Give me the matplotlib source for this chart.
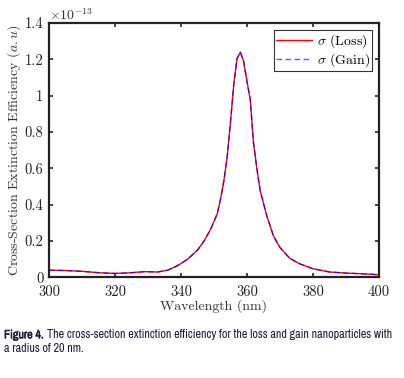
import matplotlib
matplotlib.use("Agg")
import matplotlib.pyplot as plt
import matplotlib.patheffects as pe
from matplotlib import font_manager

plt.rcParams['font.family'] = 'serif'
plt.rcParams['font.serif'] = ['cmr10', 'DejaVu Serif']
plt.rcParams['mathtext.fontset'] = 'cm'
plt.rcParams['axes.unicode_minus'] = False

# wavelength (nm) and cross-section (x1e-13, a.u.)
wavelength = [300, 305, 310, 315, 320, 325, 329, 333, 336, 339, 342, 345, 347, 349,
              351, 352, 353, 354, 355, 356, 357, 358, 359, 360, 361, 362, 363, 364,
              365, 366, 368, 370, 373, 376, 380, 385, 390, 395, 400]
sigma_loss = [0.040, 0.038, 0.034, 0.026, 0.022, 0.026, 0.032, 0.030, 0.040, 0.065,
              0.100, 0.150, 0.200, 0.265, 0.350, 0.430, 0.530, 0.660, 0.850, 1.060,
              1.205, 1.240, 1.190, 1.080, 0.980, 0.740, 0.600, 0.480, 0.410, 0.340,
              0.230, 0.165, 0.105, 0.075, 0.048, 0.030, 0.024, 0.020, 0.015]
sigma_gain = list(sigma_loss)
scale_exp = -13

caption_bold = 'Figure 4.'
caption_1 = 'The cross-section extinction efficiency for the loss and gain nanoparticles with'
caption_2 = 'a radius of 20 nm.'

# pick a narrow sans for the caption if one is installed
narrow = [f for f in font_manager.fontManager.ttflist
          if 'Narrow' in f.name or 'Condensed' in f.name]
if narrow:
    cap_kw = dict(family=narrow[0].name, stretch=narrow[0].stretch)
else:
    cap_kw = dict(family='Liberation Sans')

fig = plt.figure(figsize=(4.04, 3.78), dpi=100)
ax = fig.add_axes([0.121, 0.266, 0.817, 0.673])

ax.plot(wavelength, sigma_loss, color='red', lw=1.0, label=r'$\sigma$ (Loss)')
ax.plot(wavelength, sigma_gain, color='blue', lw=1.0, ls=(0, (4, 2.5)), alpha=0.65,
        label=r'$\sigma$ (Gain)')

ax.set_xlim(300, 400)
ax.set_ylim(0, 1.4)
ax.set_xticks([300, 320, 340, 360, 380, 400])
ax.set_yticks([0, 0.2, 0.4, 0.6, 0.8, 1.0, 1.2, 1.4])
ax.set_yticklabels(['0', '0.2', '0.4', '0.6', '0.8', '1', '1.2', '1.4'])
ax.tick_params(direction='in', top=True, right=True, length=3, width=1.2,
               labelsize=10.5, colors='#222222', pad=4)
ax.tick_params(axis='x', pad=5.5)
for s in ax.spines.values():
    s.set_linewidth(1.6)
    s.set_color('#222222')

ax.text(0.0, 1.0, r'$\times 10^{%d}$' % scale_exp, transform=ax.transAxes,
        fontsize=10, va='bottom', ha='left', color='#333333')

ax.set_xlabel('Wavelength (nm)', fontsize=10, color='#333333', labelpad=0)
ax.set_ylabel(r'Cross-Section Extinction Efficiency $(a.u)$', fontsize=10,
              color='#333333', labelpad=1)

leg = ax.legend(loc='upper right', fontsize=10, frameon=True, fancybox=False,
                edgecolor='black', borderpad=0.15, handlelength=2.6,
                handletextpad=0.3, labelspacing=0.1, borderaxespad=0.5)
leg.get_frame().set_linewidth(0.8)

# caption: shrink the font until the first line fits the page width
cap_color = '#1a1a3a'
cap_size = 9.2
renderer = fig.canvas.get_renderer()
bold_fx = [pe.withStroke(linewidth=0.35, foreground=cap_color)]
while True:
    t1 = fig.text(0.01, 0.105, caption_bold, fontsize=cap_size, fontweight='bold',
                  color=cap_color, path_effects=bold_fx, **cap_kw)
    w1 = t1.get_window_extent(renderer).x1
    t2 = fig.text(w1 / fig.bbox.width + 0.008, 0.105, caption_1, fontsize=cap_size,
                  color=cap_color, **cap_kw)
    if t2.get_window_extent(renderer).x1 <= 394 or cap_size < 5:
        break
    t1.remove()
    t2.remove()
    cap_size -= 0.1
fig.text(0.01, 0.07, caption_2, fontsize=cap_size, color=cap_color, **cap_kw)

fig.savefig('out.png', dpi=100)
